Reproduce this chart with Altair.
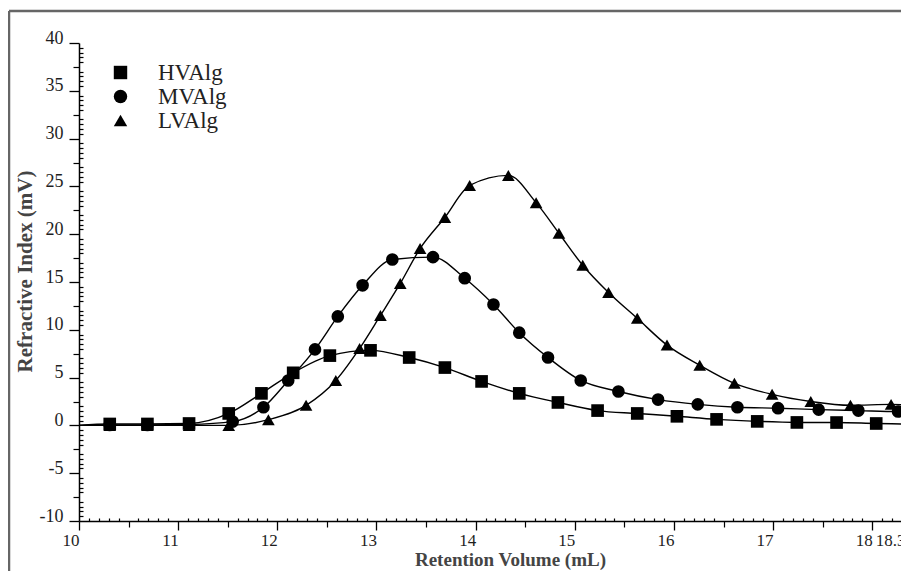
import altair as alt
import numpy as np
import pandas as pd

# ---------------- data ----------------
series_names = ["HVAlg", "MVAlg", "LVAlg"]
series_shapes = ["square", "circle", "triangle-up"]

hv_x = [10.31, 10.69, 11.11, 11.51, 11.84, 12.16, 12.53, 12.94, 13.33, 13.69, 14.06,
        14.44, 14.83, 15.23, 15.63, 16.03, 16.43, 16.84, 17.24, 17.64, 18.04]
hv_y = [0.15, 0.15, 0.2, 1.25, 3.35, 5.5, 7.3, 7.85, 7.1, 6.05, 4.6,
        3.35, 2.4, 1.55, 1.25, 0.95, 0.63, 0.42, 0.31, 0.3, 0.2]

mv_x = [10.31, 10.69, 11.11, 11.55, 11.86, 12.11, 12.38, 12.61, 12.86, 13.16, 13.57,
        13.89, 14.18, 14.44, 14.73, 15.06, 15.44, 15.84, 16.24, 16.64, 17.05, 17.46,
        17.86, 18.26]
mv_y = [0.05, 0.05, 0.1, 0.4, 1.9, 4.7, 7.95, 11.4, 14.65, 17.35, 17.6,
        15.4, 12.65, 9.7, 7.1, 4.7, 3.55, 2.7, 2.2, 1.9, 1.8, 1.65,
        1.55, 1.45]

lv_x = [10.31, 10.69, 11.11, 11.51, 11.91, 12.29, 12.59, 12.83, 13.04, 13.24, 13.44,
        13.69, 13.94, 14.33, 14.61, 14.84, 15.08, 15.34, 15.63, 15.93, 16.26, 16.61,
        16.99, 17.38, 17.78, 18.19]
lv_y = [0.0, 0.0, 0.0, 0.0, 0.6, 2.1, 4.7, 8.05, 11.5, 14.85, 18.5,
        21.75, 25.1, 26.15, 23.3, 20.1, 16.75, 13.9, 11.2, 8.4, 6.3, 4.4,
        3.25, 2.5, 2.1, 2.2]

# curve ends (line only, no marker)
line_start_x = 10.0
line_start_y = [0.0, 0.0, 0.0]
line_end_x = 18.3
line_end_y = [0.15, 1.45, 2.15]

x_major = [10, 11, 12, 13, 14, 15, 16, 17, 18]
x_end_label = [18.3]
y_major = [-10, -5, 0, 5, 10, 15, 20, 25, 30, 35, 40]

FONT = "Liberation Serif"

# ---------------- tables ----------------
marker_rows = []
for name, xs, ys in [("LVAlg", lv_x, lv_y), ("MVAlg", mv_x, mv_y), ("HVAlg", hv_x, hv_y)]:
    marker_rows += [{"series": name, "vol": a, "ri": b} for a, b in zip(xs, ys)]
markers = pd.DataFrame(marker_rows)

line_rows = list(marker_rows)
for name, y0, y1 in zip(series_names, line_start_y, line_end_y):
    line_rows.append({"series": name, "vol": line_start_x, "ri": y0})
    line_rows.append({"series": name, "vol": line_end_x, "ri": y1})
lines_df = pd.DataFrame(line_rows)

x_scale = alt.Scale(domain=[10, 18.3], nice=False, zero=False)
y_scale = alt.Scale(domain=[-10, 40], nice=False, zero=False)

x_med = [v + 0.5 for v in range(10, 18)]
x_min = [round(v, 1) for v in np.arange(10.1, 18.3, 0.1) if abs(v * 2 - round(v * 2)) > 0.01]
y_med = [v + 2.5 for v in range(-10, 40, 5)]
y_min = [v for v in np.arange(-9.5, 40, 0.5) if abs(v / 2.5 - round(v / 2.5)) > 0.01]

tick_common = dict(labels=False, domain=False, grid=False, title=None,
                   tickColor="black", tickWidth=1.2)
label_style = dict(labelFont=FONT, labelFontSize=17, labelColor="#1e1e1e",
                   labelAlign="right", labelBaseline="top", labelPadding=2,
                   labelFlush=False, labelOverlap=False,
                   labelExpr="'' + datum.value")

x_main_axis = alt.Axis(
    orient="bottom", values=x_major, tickSize=9, tickWidth=1.3,
    tickColor="black", domainColor="black", domainWidth=1.5, grid=False,
    title="Retention Volume (mL)", titleFont=FONT, titleFontSize=19,
    titleFontWeight="bold", titleColor="#444", titleX=431, titleY=44,
    titleAlign="center", titleBaseline="alphabetic", **label_style,
)
y_main_axis = alt.Axis(
    orient="left", values=y_major, labelExpr="'' + datum.value",
    tickSize=10, tickWidth=1.3,
    tickColor="black", domainColor="black", domainWidth=1.5, grid=False,
    labelFont=FONT, labelFontSize=18, labelColor="#1e1e1e", labelAlign="right",
    labelBaseline="alphabetic", labelPadding=6, labelFlush=False, labelOverlap=False,
    title="Refractive Index (mV)", titleFont=FONT, titleFontSize=21,
    titleFontWeight="bold", titleColor="#444", titleX=-54, titleY=228,
    titleAlign="center", titleBaseline="middle", titleAngle=270,
)

# ---------------- layers ----------------
one = pd.DataFrame({"k": [0]})
frame_v = alt.Chart(one).mark_rule(color="#666", strokeWidth=2.5).encode(
    x=alt.value(-70), y=alt.value(-32), y2=alt.value(700))
frame_h = alt.Chart(one).mark_rule(color="#666", strokeWidth=2.5).encode(
    x=alt.value(-70), x2=alt.value(1200), y=alt.value(-32))

lines = alt.Chart(lines_df).mark_line(
    interpolate="monotone", color="black", strokeWidth=1.4).encode(
    x=alt.X("vol:Q", scale=x_scale, axis=None),
    y=alt.Y("ri:Q", scale=y_scale, axis=None),
    detail="series:N",
    order="vol:Q",
)

points = alt.Chart(markers).mark_point(
    filled=True, opacity=1, size=160, color="black", strokeWidth=0).encode(
    x=alt.X("vol:Q", scale=x_scale, axis=x_main_axis),
    y=alt.Y("ri:Q", scale=y_scale, axis=y_main_axis),
    shape=alt.Shape("series:N",
                    scale=alt.Scale(domain=series_names, range=series_shapes),
                    legend=alt.Legend(
                        title=None, orient="none", legendX=30, legendY=18,
                        direction="vertical", padding=0, rowPadding=-1.5,
                        labelFont=FONT, labelFontSize=23, labelColor="#222",
                        labelOffset=26, symbolFillColor="black",
                        symbolStrokeColor="black", symbolStrokeWidth=0,
                        symbolOpacity=1, symbolSize=180,
                    )),
)

ghost = alt.Chart(markers).mark_point(opacity=0, size=1)

x_end_layer = ghost.encode(
    x=alt.X("vol:Q", scale=x_scale,
            axis=alt.Axis(orient="bottom", values=x_end_label, tickSize=9,
                          tickColor="black", tickWidth=1.3, domain=False,
                          grid=False, title=None, labelOffset=3, **label_style)),
    y=alt.Y("ri:Q", scale=y_scale, axis=None))
x_med_layer = ghost.encode(
    x=alt.X("vol:Q", scale=x_scale,
            axis=alt.Axis(orient="bottom", values=x_med, tickSize=6, **tick_common)),
    y=alt.Y("ri:Q", scale=y_scale, axis=None))
x_min_layer = ghost.encode(
    x=alt.X("vol:Q", scale=x_scale,
            axis=alt.Axis(orient="bottom", values=x_min, tickSize=3, offset=-3, **tick_common)),
    y=alt.Y("ri:Q", scale=y_scale, axis=None))
y_med_layer = ghost.encode(
    x=alt.X("vol:Q", scale=x_scale, axis=None),
    y=alt.Y("ri:Q", scale=y_scale,
            axis=alt.Axis(orient="left", values=y_med, tickSize=6, **tick_common)))
y_min_layer = ghost.encode(
    x=alt.X("vol:Q", scale=x_scale, axis=None),
    y=alt.Y("ri:Q", scale=y_scale,
            axis=alt.Axis(orient="left", values=y_min, tickSize=4, offset=-4, **tick_common)))

chart = alt.layer(
    frame_v, frame_h, x_min_layer, y_min_layer, x_med_layer, y_med_layer,
    x_end_layer, lines, points
).resolve_axis(
    x="independent", y="independent"
).properties(
    width=823, height=478,
    padding={"left": 71, "top": 35, "right": -1, "bottom": 50},
    autosize=alt.AutoSizeParams(type="none"),
    background="white",
).configure_view(stroke=None)

chart.save("out.html", embed_options={"renderer": "svg", "actions": False})
